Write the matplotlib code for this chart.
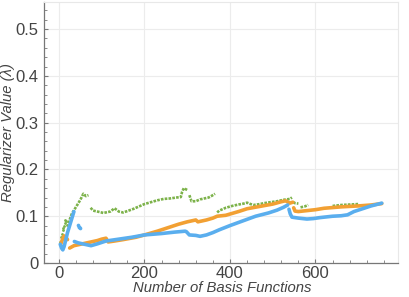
import numpy as np
import matplotlib
matplotlib.use("Agg")
import matplotlib.pyplot as plt
from matplotlib.ticker import MultipleLocator

plt.rcParams['font.family'] = ['Liberation Sans', 'DejaVu Sans']

nan = float('nan')

# serie verde (spezzata in tratti con nan)
green_x = [22, 30, 40, 50, 57, 63, 69, nan,
           74, 80, 90, 104, 120, 130, 140, 150, 160, 175, 190, 200, 215, 230, 245, 260, 275, 285, 288, 292, 300, nan,
           305, 310, 320, 330, 340, 350, 358, 365, nan,
           370, 375, 390, 405, 420, 432, 440, 448, 455, 470, 480, 495, 510, 525, 540, 545, nan,
           548, 552, 560, nan,
           565, 575, 583, nan,
           640, 660, 680, 700]
green_y = [0.085, 0.105, 0.12, 0.135, 0.148, 0.143, 0.145, nan,
           0.118, 0.112, 0.110, 0.107, 0.110, 0.117, 0.110, 0.108, 0.111, 0.116, 0.122, 0.126, 0.130, 0.134, 0.137, 0.138, 0.140, 0.141, 0.152, 0.160, 0.156, nan,
           0.145, 0.132, 0.132, 0.136, 0.138, 0.140, 0.144, 0.148, nan,
           0.108, 0.112, 0.118, 0.122, 0.125, 0.127, 0.129, 0.126, 0.124, 0.126, 0.128, 0.130, 0.132, 0.135, 0.137, 0.140, nan,
           0.130, 0.128, 0.127, nan,
           0.119, 0.121, 0.124, nan,
           0.122, 0.124, 0.125, 0.126]

# punti verdi sparsi all'inizio
green_pts_x = [3, 5, 7, 9, 10, 12, 14, 15, 17, 19]
green_pts_y = [0.045, 0.055, 0.062, 0.07, 0.075, 0.08, 0.085, 0.093, 0.09, 0.082]

orange_x = [4, 8, 12, 16, 20, nan,
            25, 35, 50, 65, 75, 90, 100, 110, 115, 130, 150, 180, 200, 230, 260, 280, 300, 315, 320, 325, 335, 345, 360, 370, 390,
            405, 420, 440, 470, 500, 520, 530, 540, 547, nan,
            549, 552, 560, 580, 600, 620, 660, 700, 730, 755]
orange_y = [0.04, 0.05, 0.058, 0.055, 0.05, nan,
            0.032, 0.037, 0.040, 0.043, 0.045, 0.048, 0.051, 0.053, 0.045, 0.047, 0.050, 0.055, 0.060, 0.068, 0.077, 0.083, 0.088, 0.091, 0.092, 0.088, 0.090, 0.092, 0.096, 0.100, 0.102,
            0.106, 0.110, 0.116, 0.121, 0.126, 0.131, 0.133, 0.128, 0.130, nan,
            0.118, 0.111, 0.110, 0.112, 0.114, 0.117, 0.120, 0.122, 0.124, 0.127]

blue_x = [3, 6, 9, 12, 16, 20, 25, 30, 35, nan,
          36, 45, 60, 75, 90, 110, 140, 170, 200, 240, 270, 295, 298, 305, 320, 330, 345, 360, 375, 400, 430, 460, 490, 510, 525, 535, nan,
          538, 541, 545, 560, 580, 595, 610, 640, 660, 675, 690, 710, 730, 755]
blue_y = [0.04, 0.032, 0.028, 0.035, 0.05, 0.065, 0.08, 0.095, 0.11, nan,
          0.046, 0.043, 0.040, 0.037, 0.041, 0.047, 0.051, 0.055, 0.060, 0.063, 0.066, 0.068, 0.067, 0.060, 0.059, 0.057, 0.060, 0.065, 0.071, 0.080, 0.090, 0.100, 0.107, 0.113, 0.119, 0.124, nan,
          0.115, 0.105, 0.098, 0.096, 0.094, 0.095, 0.097, 0.100, 0.101, 0.103, 0.110, 0.116, 0.122, 0.128]

# punti blu isolati
blue_pts_x = [44, 46, 48, 50]
blue_pts_y = [0.082, 0.078, 0.076, 0.074]

c_green = '#7cb24a'
c_orange = '#f2a033'
c_blue = '#5aaeee'
grigio = '#444444'

fig = plt.figure(figsize=(4.09, 2.97), dpi=100)
ax = fig.add_axes([44 / 409, 34 / 297, 354 / 409, 261 / 297])

ax.plot(green_x, green_y, color=c_green, lw=1.9, ls=(0, (1.0, 0.45)))
ax.scatter(green_pts_x, green_pts_y, s=4, color=c_green, lw=0)
ax.plot(orange_x, orange_y, color=c_orange, lw=2.6, solid_capstyle='round')
ax.plot(blue_x, blue_y, color=c_blue, lw=2.6, solid_capstyle='round')
ax.scatter(blue_pts_x, blue_pts_y, s=7, color=c_blue, lw=0)

ax.set_xlim(-35, 793)
ax.set_ylim(0, 0.558)

ax.xaxis.set_major_locator(MultipleLocator(200))
ax.xaxis.set_minor_locator(MultipleLocator(40))
ax.yaxis.set_major_locator(MultipleLocator(0.1))
ax.yaxis.set_minor_locator(MultipleLocator(0.02))
ax.set_yticks(np.arange(0, 0.51, 0.1))
ax.set_yticklabels(['0', '0.1', '0.2', '0.3', '0.4', '0.5'])

ax.grid(True, which='major', color='#ececec', lw=0.8)
ax.set_axisbelow(True)

for lato in ['top', 'right']:
    ax.spines[lato].set_color('#e8e8e8')
for lato in ['left', 'bottom']:
    ax.spines[lato].set_color('#777777')
    ax.spines[lato].set_linewidth(0.9)

ax.tick_params(axis='both', which='major', direction='in', length=3, width=0.8,
               color='#777777', labelsize=12, labelcolor=grigio)
ax.tick_params(axis='x', which='major', pad=2)
ax.tick_params(axis='y', which='major', pad=4)
ax.tick_params(axis='both', which='minor', direction='in', length=2, width=0.6, color='#777777')

ax.set_xlabel('Number of Basis Functions', fontsize=10.7, style='italic', color=grigio)
ax.xaxis.set_label_coords(0.503, -0.068)
ax.set_ylabel('Regularizer Value (λ)', fontsize=10.7, style='italic', color=grigio, labelpad=0)

fig.savefig('out.png', dpi=100)
